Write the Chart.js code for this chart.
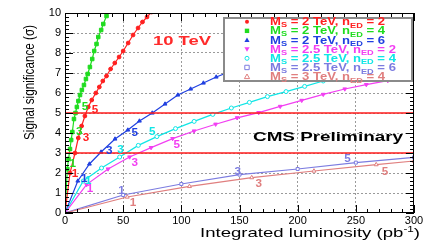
<!DOCTYPE html>
<html>
<head>
<meta charset="utf-8">
<script src="https://cdn.jsdelivr.net/npm/chart.js@4.4.0/dist/chart.umd.min.js"></script>
<style>
  html, body { margin: 0; padding: 0; background: #fff; }
</style>
</head>
<body>
<canvas id="c" width="436" height="245"></canvas>
<script>
// x: integrated luminosity (pb^-1), y: signal significance (sigma)
const xRange = [0, 300];
const yRange = [0, 10];

// M_S = 2 TeV, n_ED = 2
const redLumi = [0, 4.3, 8.6, 11.4, 14.3, 17.1, 20, 23, 26.5, 29.5, 32.5, 35.7, 39.2, 42.8, 46.5, 50, 54.3, 58.5, 62.8, 66.6, 70.5, 74.5];
const redSig  = [0, 2.0, 3.0, 3.75, 4.35, 4.85, 5.3, 5.65, 6.0, 6.3, 6.6, 6.85, 7.2, 7.5, 7.8, 8.1, 8.5, 8.9, 9.25, 9.55, 9.8, 10.05];
// M_S = 2 TeV, n_ED = 4
const greenLumi = [0, 2.0, 3.0, 4.3, 5.3, 6.3, 7.7, 9.0, 10.2, 11.5, 12.9, 14.5, 16.3, 18, 19.5, 21.4, 23.4, 25.1, 27.1, 28.6, 31.1, 32.9, 35.7, 37.5];
const greenSig  = [0, 2.2, 2.7, 3.2, 3.65, 4.05, 4.7, 5.0, 5.3, 5.6, 5.9, 6.15, 6.4, 6.7, 6.95, 7.3, 7.7, 8.1, 8.45, 8.8, 9.15, 9.45, 9.85, 10.1];
// M_S = 2 TeV, n_ED = 6
const blueLumi = [0, 11, 21, 31, 43, 54, 64, 75, 86, 97, 108, 119, 130, 141];
const blueSig  = [0, 1.6, 2.45, 3.05, 3.7, 4.15, 4.6, 5.0, 5.45, 5.9, 6.2, 6.5, 6.8, 7.05];
// M_S = 2.5 TeV, n_ED = 2
const magentaLumi = [0, 18.5, 37, 55.5, 74, 92.5, 111, 129.5, 148, 166.5, 185, 203.5, 222, 240.5, 259, 277.5, 296, 300];
const magentaSig  = [0, 1.42, 2.2, 2.8, 3.27, 3.72, 4.1, 4.44, 4.76, 5.02, 5.33, 5.63, 5.93, 6.2, 6.42, 6.62, 6.82, 6.86];
// M_S = 2.5 TeV, n_ED = 4
const cyanLumi = [0, 15.7, 31.4, 47, 63, 79, 95, 111, 127, 143, 158.5, 174, 190, 206, 222, 237, 253, 269, 285, 300];
const cyanSig  = [0, 1.6, 2.25, 2.8, 3.38, 3.82, 4.22, 4.58, 4.93, 5.25, 5.53, 5.82, 6.07, 6.33, 6.6, 6.85, 7.1, 7.33, 7.55, 7.75];
// M_S = 2.5 TeV, n_ED = 6
const slateLumi = [0, 50, 100, 150, 200, 250, 300];
const slateSig  = [0, 0.9, 1.45, 1.92, 2.2, 2.52, 2.78];
// M_S = 3 TeV, n_ED = 4
const salmonLumi = [0, 53.5, 107, 160.5, 214, 267.5, 300];
const salmonSig  = [0, 0.8, 1.33, 1.77, 2.1, 2.42, 2.6];

// 3 and 5 sigma reference lines
const sigmaLines = [3, 5];

// legend text: [M_S value, n_ED value]
const legendMs = ['2', '2', '2', '2.5', '2.5', '2.5', '3'];
const legendNed = ['2', '4', '6', '2', '4', '6', '4'];

// "1", "3", "5" labels along each curve, [lumi, sigma]
const greenNotes   = [['1', 6.6, 2.47], ['3', 12.3, 4.1], ['5', 17.1, 5.34]];
const redNotes     = [['1', 8.6, 2.0], ['3', 18, 3.77], ['5', 25.7, 5.18]];
const blueNotes    = [['1', 16.6, 1.72], ['3', 38, 3.14], ['5', 60, 4.03]];
const cyanNotes    = [['1', 20, 1.64], ['3', 47.7, 3.17], ['5', 75, 4.06]];
const magentaNotes = [['1', 21.4, 1.22], ['3', 60, 2.55], ['5', 96, 3.42]];
const slateNotes   = [['1', 48.6, 1.14], ['3', 148.5, 2.1], ['5', 242.8, 2.72]];
const salmonNotes  = [['1', 58.5, 0.55], ['3', 166.5, 1.47], ['5', 275, 2.1]];

const colors = {
  red: '#ff2020',
  green: '#1fdc1f',
  blue: '#2040e0',
  magenta: '#f23ff2',
  cyan: '#10e6e6',
  slate: '#7c7ce0',
  salmon: '#e07f7f'
};

function pts(xs, ys) {
  return xs.map((v, i) => ({ x: v, y: ys[i] }));
}

// hide marker at the origin
function rad(r) {
  return c => (c.raw && c.raw.x === 0 ? 0 : r);
}

function curve(xs, ys, color, style, r, open, rot) {
  return {
    data: pts(xs, ys),
    borderColor: color,
    borderWidth: 1.2,
    pointStyle: style,
    pointRadius: rad(r),
    pointRotation: rot || 0,
    pointBackgroundColor: open ? '#ffffff' : color,
    pointBorderColor: color,
    pointBorderWidth: 1,
    tension: 0
  };
}

const datasets = [];
sigmaLines.forEach(v => {
  datasets.push({
    data: [{ x: xRange[0], y: v }, { x: xRange[1], y: v }],
    borderColor: '#ff1c1c',
    borderWidth: 1.5,
    pointRadius: 0
  });
});
datasets.push(curve(salmonLumi, salmonSig, colors.salmon, 'triangle', 2.3, true));
datasets.push(curve(slateLumi, slateSig, colors.slate, 'rect', 2.1, true));
datasets.push(curve(magentaLumi, magentaSig, colors.magenta, 'triangle', 2.2, false, 180));
datasets.push(curve(cyanLumi, cyanSig, colors.cyan, 'circle', 2, true));
datasets.push(curve(blueLumi, blueSig, colors.blue, 'triangle', 2.2, false));
datasets.push(curve(redLumi, redSig, colors.red, 'circle', 1.9, false));
datasets.push(curve(greenLumi, greenSig, colors.green, 'rect', 2.5, false));

const FONT = '"Liberation Sans", Arial, Helvetica, sans-serif';

// draw text squeezed/stretched horizontally to a given width
function fitText(ctx, str, font, x, y, w, align) {
  ctx.font = font;
  const m = ctx.measureText(str).width;
  ctx.save();
  ctx.translate(x, y);
  ctx.scale(w / m, 1);
  ctx.textAlign = align || 'left';
  ctx.textBaseline = 'alphabetic';
  ctx.fillText(str, 0, 0);
  ctx.restore();
}

function marker(ctx, kind, x, y, color) {
  ctx.save();
  ctx.strokeStyle = color;
  ctx.fillStyle = color;
  ctx.lineWidth = 1;
  ctx.beginPath();
  if (kind === 'dot' || kind === 'ring') {
    ctx.arc(x, y, 2, 0, Math.PI * 2);
  } else if (kind === 'box' || kind === 'openbox') {
    ctx.rect(x - 2.2, y - 2.2, 4.4, 4.4);
  } else if (kind === 'up' || kind === 'openup') {
    ctx.moveTo(x, y - 2.6); ctx.lineTo(x + 2.6, y + 2); ctx.lineTo(x - 2.6, y + 2); ctx.closePath();
  } else if (kind === 'down') {
    ctx.moveTo(x, y + 2.6); ctx.lineTo(x + 2.6, y - 2); ctx.lineTo(x - 2.6, y - 2); ctx.closePath();
  }
  if (kind === 'ring' || kind === 'openbox' || kind === 'openup') ctx.stroke();
  else ctx.fill();
  ctx.restore();
}

const decor = {
  id: 'decor',
  afterDraw(chart) {
    const ctx = chart.ctx;
    const a = chart.chartArea;
    const xs = chart.scales.x, ys = chart.scales.y;
    ctx.save();

    // frame
    ctx.strokeStyle = '#000';
    ctx.lineWidth = 1;
    ctx.strokeRect(a.left + 0.5, a.top + 0.5, a.right - a.left - 1, a.bottom - a.top - 1);

    // inward ticks
    ctx.beginPath();
    for (let v = 0; v <= 300; v += 10) {
      const px = Math.round(xs.getPixelForValue(v)) + 0.5;
      const len = v % 50 === 0 ? 8 : 4;
      ctx.moveTo(px, a.bottom); ctx.lineTo(px, a.bottom - len);
      ctx.moveTo(px, a.top); ctx.lineTo(px, a.top + len);
    }
    for (let i = 0; i <= 50; i++) {
      const py = Math.round(ys.getPixelForValue(i * 0.2)) + 0.5;
      const len = i % 5 === 0 ? 8 : 4;
      ctx.moveTo(a.left, py); ctx.lineTo(a.left + len, py);
      ctx.moveTo(a.right, py); ctx.lineTo(a.right - len, py);
    }
    ctx.stroke();

    // labels along curves
    const noteSets = [
      [greenNotes, colors.green], [redNotes, colors.red], [blueNotes, colors.blue],
      [cyanNotes, colors.cyan], [magentaNotes, colors.magenta],
      [slateNotes, colors.slate], [salmonNotes, colors.salmon]
    ];
    noteSets.forEach(([notes, col]) => {
      ctx.fillStyle = col;
      notes.forEach(n => {
        const px = xs.getPixelForValue(n[1]);
        const py = ys.getPixelForValue(n[2]);
        fitText(ctx, n[0], 'bold 10px ' + FONT, px, py + 3.5, 6.5, 'center');
      });
    });

    // 10 TeV
    ctx.fillStyle = '#ff2a2a';
    fitText(ctx, '10 TeV', 'bold 12px ' + FONT, 153, 44.5, 58, 'left');

    // CMS Preliminary
    ctx.fillStyle = '#000';
    fitText(ctx, 'CMS Preliminary', 'bold 12.5px ' + FONT, 253, 140.5, 150, 'left');

    // legend box
    ctx.fillStyle = '#fff';
    ctx.fillRect(223, 17, 190, 65);
    ctx.strokeStyle = '#8a8a8a';
    ctx.lineWidth = 2;
    ctx.strokeRect(224, 18, 188, 63);

    const rowCols = [colors.red, colors.green, colors.blue, colors.magenta, colors.cyan, colors.slate, colors.salmon];
    const rowMarks = ['dot', 'box', 'up', 'down', 'ring', 'openbox', 'openup'];
    const big = 'bold 10px ' + FONT, small = 'bold 7px ' + FONT;
    // common horizontal scale from the first row
    function segs(i) {
      return [
        ['M', big, 0], ['S', small, 2], [' = ' + legendMs[i] + ' TeV, n', big, 0],
        ['ED', small, 2.5], [' = ' + legendNed[i], big, 0]
      ];
    }
    function rowWidth(s) {
      let w = 0;
      s.forEach(g => { ctx.font = g[1]; w += ctx.measureText(g[0]).width; });
      return w;
    }
    const sx = 115 / rowWidth(segs(0));
    for (let i = 0; i < 7; i++) {
      const cy = 21.7 + i * 9.15;
      marker(ctx, rowMarks[i], 247, cy, rowCols[i]);
      ctx.save();
      ctx.translate(270, cy + 3.6);
      ctx.scale(sx, 1);
      ctx.fillStyle = rowCols[i];
      ctx.textAlign = 'left';
      let x = 0;
      segs(i).forEach(g => {
        ctx.font = g[1];
        ctx.fillText(g[0], x, g[2]);
        x += ctx.measureText(g[0]).width;
      });
      ctx.restore();
    }

    // axis titles
    ctx.fillStyle = '#000';
    // x title with superscript
    const xt = [['Integrated luminosity (pb', '13.5px ' + FONT, 0], ['-1', '8.5px ' + FONT, -5], [')', '13.5px ' + FONT, 0]];
    let tw = 0;
    xt.forEach(g => { ctx.font = g[1]; tw += ctx.measureText(g[0]).width; });
    ctx.save();
    ctx.translate(200, 236.5);
    ctx.scale(220 / tw, 1);
    let tx = 0;
    xt.forEach(g => { ctx.font = g[1]; ctx.fillText(g[0], tx, g[2]); tx += ctx.measureText(g[0]).width; });
    ctx.restore();

    // y title
    ctx.save();
    ctx.translate(33.5, 140);
    ctx.rotate(-Math.PI / 2);
    ctx.font = '14px ' + FONT;
    const yw = ctx.measureText('Signal significance (\u03c3)').width;
    ctx.scale(115 / yw, 1);
    ctx.textAlign = 'left';
    ctx.fillText('Signal significance (\u03c3)', 0, 0);
    ctx.restore();

    ctx.restore();
  }
};

new Chart(document.getElementById('c'), {
  type: 'line',
  data: { datasets: datasets },
  options: {
    responsive: false,
    animation: false,
    layout: { padding: { left: 0, right: 22, top: 13, bottom: 0 } },
    plugins: { legend: { display: false }, tooltip: { enabled: false } },
    scales: {
      x: {
        type: 'linear',
        min: xRange[0],
        max: xRange[1],
        afterFit: s => { s.height = 32; },
        ticks: { stepSize: 50, color: '#000', padding: 1, maxRotation: 0, font: { family: FONT, size: 11 } },
        grid: {
          drawTicks: false,
          lineWidth: 1,
          color: c => (c.tick && c.tick.value > xRange[0] && c.tick.value < xRange[1]) ? '#9a9a9a' : 'rgba(0,0,0,0)'
        },
        border: { display: false, dash: [2, 2] }
      },
      y: {
        min: yRange[0],
        max: yRange[1],
        afterFit: s => { s.width = 65; },
        ticks: { stepSize: 1, color: '#000', padding: 4, font: { family: FONT, size: 11 } },
        grid: {
          drawTicks: false,
          lineWidth: 1,
          color: c => (c.tick && c.tick.value > yRange[0] && c.tick.value < yRange[1]) ? '#9a9a9a' : 'rgba(0,0,0,0)'
        },
        border: { display: false, dash: [2, 2] }
      }
    }
  },
  plugins: [decor]
});
</script>
</body>
</html>
